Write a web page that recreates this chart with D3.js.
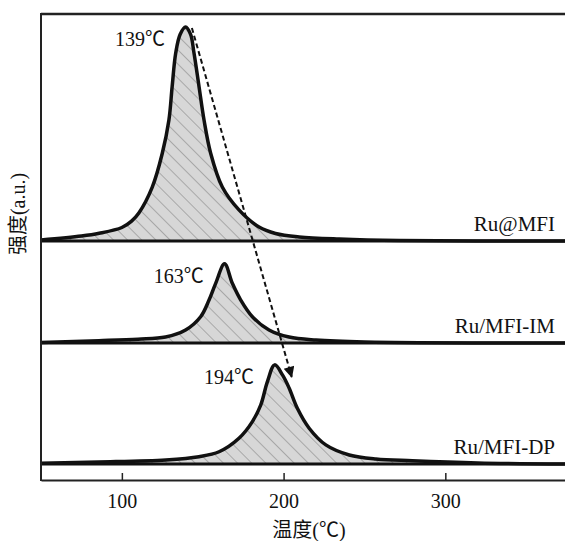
<!DOCTYPE html>
<html>
<head>
<meta charset="utf-8">
<script src="https://cdn.jsdelivr.net/npm/d3@7"></script>
<style>
  body { margin: 0; background: #fff; }
  svg text { font-family: "Liberation Serif", "Noto Sans CJK SC", serif; fill: #111; }
</style>
</head>
<body>
<div id="chart"></div>
<script>
// TPR profiles, temperature (℃) vs intensity (a.u.)
const sampleNames = ['Ru@MFI', 'Ru/MFI-IM', 'Ru/MFI-DP'];
const peakTemps = [139, 163, 194];

const tempMFI = [50, 75, 86, 100, 106, 110.5, 118.8, 125, 129.1, 131.1, 133.3, 136, 139.4, 142.5, 144.6, 147.7, 150.8, 154.9, 162.1, 172.4, 184.8, 195, 209.6, 234.4, 271.5, 374];
const intMFI  = [0.5, 2.3, 3.6, 6.3, 9.3, 13.1, 25.2, 41, 56.5, 72.2, 87.8, 96.5, 100, 96.5, 87.8, 72.2, 56.5, 41, 25.2, 14.5, 6.5, 3.5, 1.9, 0.9, 0.2, 0];

const tempIM = [50, 85.8, 110, 127, 139.4, 148.7, 153.9, 158, 163.5, 168.3, 173.5, 180.7, 191, 203.4, 220, 250, 374];
const intIM  = [0.3, 1.1, 1.8, 2.8, 6.1, 12.3, 20.1, 27.9, 37, 27.9, 20.1, 12.3, 6.1, 2.8, 1.4, 0.5, 0];

const tempDP = [50, 85.8, 127.2, 147.7, 160.1, 172.4, 180.7, 185.9, 190, 194.5, 199.3, 203.4, 208.5, 215.8, 226.1, 240.6, 257.1, 279.6, 320, 374];
const intDP  = [0.3, 0.9, 1.9, 3.4, 5.7, 12, 19.8, 27.6, 38.5, 46.3, 41.6, 35.5, 26, 16.7, 8.9, 4.2, 2.3, 1.5, 0.5, 0];

const xTicks = [100, 200, 300];

// dashed arrow showing the shift (temperature, intensity within panel)
const arrowFrom = [143.3, 99.5];
const arrowTo = [205, 40.7];

const series = [
  { name: sampleNames[0], peak: peakTemps[0], t: tempMFI, v: intMFI },
  { name: sampleNames[1], peak: peakTemps[1], t: tempIM, v: intIM },
  { name: sampleNames[2], peak: peakTemps[2], t: tempDP, v: intDP }
];

// layout
const W = 565, H = 541;
const mLeft = 41, mRight = 565, mTop = 14, mBottom = 480;
const offsets = [111.7, 64, 7.5]; // baseline of each stacked trace, in y units

const svg = d3.select('#chart').append('svg')
  .attr('width', W).attr('height', H);

const x = d3.scaleLinear().domain([50, 374]).range([mLeft, mRight]);
const y = d3.scaleLinear().domain([0, (mBottom - mTop) / 2.14]).range([mBottom, mTop]);

const curve = d3.curveCatmullRom.alpha(0.5);

// hatch pattern
const defs = svg.append('defs');
const pat = defs.append('pattern')
  .attr('id', 'hatch')
  .attr('patternUnits', 'userSpaceOnUse')
  .attr('width', 10).attr('height', 10)
  .attr('patternTransform', 'rotate(-45)');
pat.append('rect').attr('width', 10).attr('height', 10).attr('fill', '#d7d7d7');
pat.append('line')
  .attr('x1', 0).attr('y1', 0).attr('x2', 0).attr('y2', 10)
  .attr('stroke', '#7a7a7a').attr('stroke-width', 1);

defs.append('marker')
  .attr('id', 'arrowhead')
  .attr('viewBox', '0 0 10 10')
  .attr('refX', 9).attr('refY', 5)
  .attr('markerWidth', 14).attr('markerHeight', 11)
  .attr('markerUnits', 'userSpaceOnUse')
  .attr('orient', 'auto')
  .append('path').attr('d', 'M0,0 L10,5 L0,10 Z').attr('fill', '#111');

series.forEach((s, i) => {
  const off = offsets[i];
  const pts = s.t.map((t, j) => [t, s.v[j]]);
  const g = svg.append('g');

  const area = d3.area()
    .x(d => x(d[0]))
    .y0(y(off))
    .y1(d => y(off + d[1]))
    .curve(curve);
  g.append('path').datum(pts).attr('d', area).attr('fill', 'url(#hatch)');

  // baseline
  g.append('line')
    .attr('x1', x(50)).attr('x2', x(374))
    .attr('y1', y(off)).attr('y2', y(off))
    .attr('stroke', '#111').attr('stroke-width', 3);

  const line = d3.line()
    .x(d => x(d[0]))
    .y(d => y(off + d[1]))
    .curve(curve);
  g.append('path').datum(pts).attr('d', line)
    .attr('fill', 'none').attr('stroke', '#111')
    .attr('stroke-width', 3.5).attr('stroke-linejoin', 'round');

  // peak label
  const peakVal = d3.max(s.v);
  g.append('text')
    .attr('x', x(s.peak) - 20)
    .attr('y', y(off + peakVal) + 19)
    .attr('text-anchor', 'end')
    .attr('font-size', 20)
    .text(s.peak + '℃');

  // sample label
  g.append('text')
    .attr('x', 555)
    .attr('y', y(off) - 10)
    .attr('text-anchor', 'end')
    .attr('font-size', 21)
    .text(s.name);
});

// dashed shift arrow
svg.append('line')
  .attr('x1', x(arrowFrom[0])).attr('y1', y(offsets[0] + arrowFrom[1]))
  .attr('x2', x(arrowTo[0])).attr('y2', y(offsets[2] + arrowTo[1]))
  .attr('stroke', '#111').attr('stroke-width', 2)
  .attr('stroke-dasharray', '5,3')
  .attr('marker-end', 'url(#arrowhead)');

// frame
svg.append('line')
  .attr('x1', mLeft).attr('x2', mRight).attr('y1', mTop).attr('y2', mTop)
  .attr('stroke', '#222').attr('stroke-width', 2.5);
svg.append('line')
  .attr('x1', mLeft).attr('x2', mLeft).attr('y1', mTop - 1).attr('y2', mBottom + 1)
  .attr('stroke', '#222').attr('stroke-width', 2);

// x axis
const xAxis = d3.axisBottom(x).tickValues(xTicks).tickSizeInner(-7).tickSizeOuter(0).tickPadding(14);
const ax = svg.append('g').attr('transform', `translate(0,${mBottom})`).call(xAxis);
ax.select('.domain').attr('stroke', '#222').attr('stroke-width', 2);
ax.selectAll('.tick line').attr('stroke', '#222').attr('stroke-width', 1.5);
ax.selectAll('.tick text')
  .attr('font-family', '"Liberation Serif", serif')
  .attr('font-size', 20).attr('fill', '#111');

// axis titles
svg.append('text')
  .attr('x', 309).attr('y', 537)
  .attr('text-anchor', 'middle')
  .attr('font-size', 20)
  .text('温度(℃)');

svg.append('text')
  .attr('transform', 'translate(25,214) rotate(-90)')
  .attr('text-anchor', 'middle')
  .attr('font-size', 20)
  .text('强度(a.u.)');
</script>
</body>
</html>
